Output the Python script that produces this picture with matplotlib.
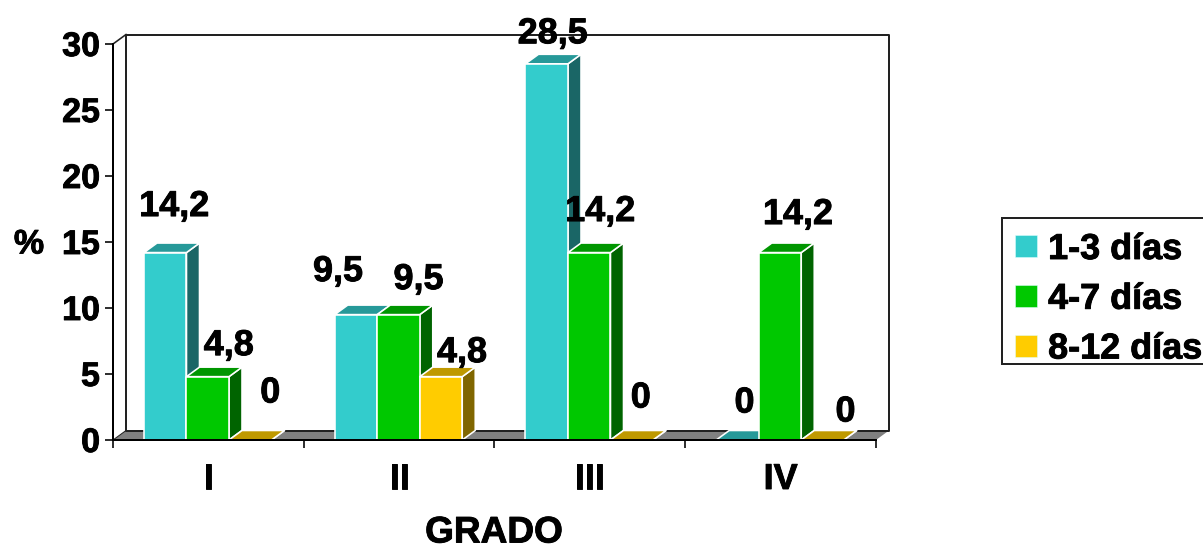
import matplotlib
matplotlib.use("Agg")
import matplotlib.pyplot as plt
import matplotlib.patheffects as pe
from matplotlib.patches import Polygon, Patch, Rectangle

grades = ["I", "II", "III", "IV"]
series_names = ["1-3 días", "4-7 días", "8-12 días"]
dias_1_3 = [14.2, 9.5, 28.5, 0]
dias_4_7 = [4.8, 9.5, 14.2, 14.2]
dias_8_12 = [0, 4.8, 0, 0]
y_ticks = [0, 5, 10, 15, 20, 25, 30]

front_colors = ["#33CCCC", "#00C800", "#FFCC00"]
top_colors = ["#269999", "#009600", "#BF9900"]
side_colors = ["#1A6666", "#006400", "#806600"]

# label shift from the top centre of each bar, per series then grade
label_shift = [
    [(9, 46), (-18, 43), (6, 30), (7, 37)],
    [(21, 31), (20, 35), (11, 41), (18, 38)],
    [(20, 47), (21, 24), (9, 42), (23, 28)],
]

W, H = 1203, 548
plt.rcParams["font.family"] = ["Liberation Sans", "DejaVu Sans"]
plt.rcParams["font.weight"] = "bold"
FS = 36
heavy = [pe.withStroke(linewidth=0.9, foreground="black")]

fig = plt.figure(figsize=(W / 72, H / 72), dpi=72)
left, right, bottom, top = 113, 876, 440, 44
ax = fig.add_axes([left / W, 1 - bottom / H, (right - left) / W, (bottom - top) / H])
ax.set_xlim(0, 4)
ax.set_ylim(0, 30)
ax.patch.set_visible(False)

# depth of the fake 3d box in data units
dx = 13 / ((right - left) / 4)
dy = 9.5 / ((bottom - top) / 30)


def face(points, fc, ec="none", lw=0, z=2):
    ax.add_patch(Polygon(points, closed=True, facecolor=fc, edgecolor=ec,
                         linewidth=lw, clip_on=False, zorder=z, joinstyle="round"))


# floor and back wall
face([(0, 0), (4, 0), (4 + dx, dy), (dx, dy)], "#808080", z=1)
face([(dx, dy), (4 + dx, dy), (4 + dx, 30 + dy), (dx, 30 + dy)], "none", "#222222", 2.0, z=1)
ax.plot([0, dx], [30, 30 + dy], color="#222222", lw=1.6, clip_on=False, zorder=1)
ax.plot([0, dx], [0, dy], color="#222222", lw=1.0, clip_on=False, zorder=1)

bar_w = 0.2228
margin = 0.1625
all_series = [dias_1_3, dias_4_7, dias_8_12]

for g in range(len(grades)):
    for s, values in enumerate(all_series):
        v = values[g]
        x0 = g + margin + s * bar_w
        x1 = x0 + bar_w
        z = 3 + g * 3 + s * 0.1
        face([(x1, 0), (x1 + dx, dy), (x1 + dx, v + dy), (x1, v)], side_colors[s], "white", 1.6, z)
        face([(x0, v), (x1, v), (x1 + dx, v + dy), (x0 + dx, v + dy)], top_colors[s], "white", 1.6, z)
        face([(x0, 0), (x1, 0), (x1, v), (x0, v)], front_colors[s], "white", 1.6, z)
        sx, sy = label_shift[s][g]
        ax.annotate(str(v).replace(".", ","), xy=((x0 + x1) / 2, v), xytext=(sx, sy),
                    textcoords="offset points", ha="center", va="center",
                    fontsize=FS, color="black", zorder=40, annotation_clip=False,
                    path_effects=heavy)

for name in ["top", "right"]:
    ax.spines[name].set_visible(False)
for name in ["left", "bottom"]:
    ax.spines[name].set_linewidth(2.0)
    ax.spines[name].set_color("black")
    ax.spines[name].set_zorder(30)

ax.set_yticks(y_ticks)
ax.tick_params(axis="y", length=8, width=1.6, pad=5, labelsize=FS - 2)
ax.set_xticks(range(5))
ax.set_xticklabels([])
ax.set_xticks([g + 0.5 for g in range(4)], grades, minor=True)
ax.tick_params(axis="x", which="major", length=8, width=1.6)
ax.tick_params(axis="x", which="minor", length=0, pad=22, labelsize=FS)
for lab in ax.get_yticklabels() + ax.get_xticklabels(minor=True):
    lab.set_path_effects(heavy)

ax.set_xlabel("GRADO", fontsize=FS + 1, fontweight="bold", va="center", path_effects=heavy)
ax.xaxis.set_label_coords((494 - left) / (right - left), (bottom - 533) / (bottom - top))
ax.set_ylabel("%", fontsize=FS - 2, fontweight="bold", rotation=0, ha="center", va="center",
              path_effects=heavy)
ax.yaxis.set_label_coords((29 - left) / (right - left), (bottom - 245) / (bottom - top))

# legend box runs off the right side of the figure
fig.add_artist(Rectangle((1002 / W, 1 - 364 / H), 230 / W, 146 / H, transform=fig.transFigure,
                         facecolor="white", edgecolor="#222222", linewidth=2.0, zorder=5))
handles = [Patch(facecolor=c, edgecolor="#DDFFFF", linewidth=0.5) for c in front_colors]
leg = fig.legend(handles, series_names, loc="upper left",
                 bbox_to_anchor=(1015 / W, 1 - 232 / H), borderaxespad=0, borderpad=0,
                 fontsize=FS, frameon=False,
                 handlelength=0.62, handleheight=0.58, handletextpad=0.3, labelspacing=0.41)
leg.set_zorder(6)
for txt in leg.get_texts():
    txt.set_path_effects(heavy)

fig.savefig("out.png", dpi=72)
